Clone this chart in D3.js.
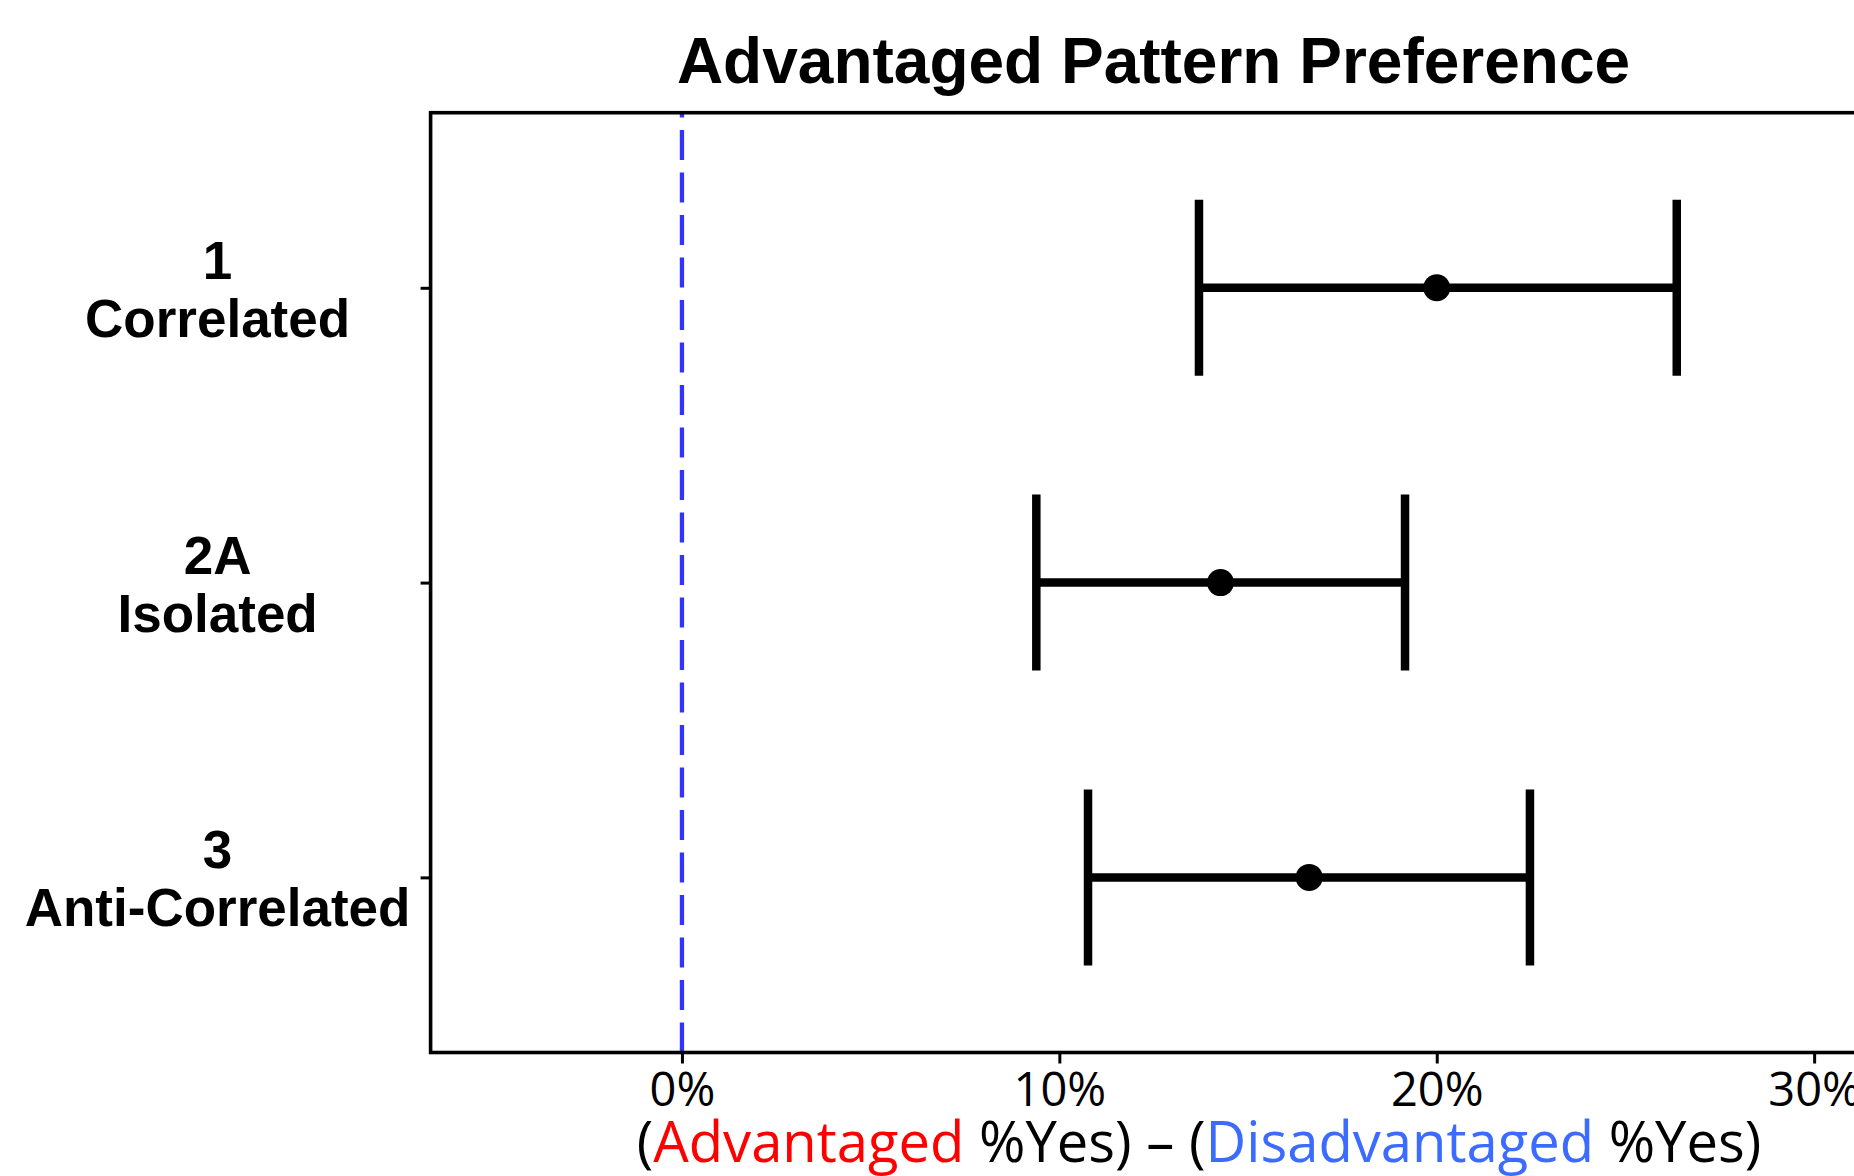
<!DOCTYPE html>
<html>
<head>
<meta charset="utf-8">
<script src="https://cdn.jsdelivr.net/npm/d3@7"></script>
<style>
  html, body { margin: 0; padding: 0; background: #fff; overflow: hidden; }
</style>
</head>
<body>
<svg id="chart" width="1854" height="1176"></svg>
<script>
// ---- data ----
const categoryNumbers = ["1", "2A", "3"];
const categoryNames = ["Correlated", "Isolated", "Anti-Correlated"];
const pointValues = [20.0, 14.27, 16.62];   // % difference
const lowerValues = [13.70, 9.39, 10.76];
const upperValues = [26.36, 19.16, 22.47];
const xTickValues = [0, 10, 20, 30];
const titleText = "Advantaged Pattern Preference";
const xLabelParts = [
  { text: "(", color: "#000000" },
  { text: "Advantaged", color: "#ff0000" },
  { text: " %Yes) \u2013 (", color: "#000000" },
  { text: "Disadvantaged", color: "#3b6bff" },
  { text: " %Yes)", color: "#000000" }
];

(function () {
// ---- layout ----
const svg = d3.select("#chart");
const pL = 430.6, pR = 1876.4, pT = 112.7, pB = 1052.5;

const x = d3.scaleLinear().domain([-6.66, 31.65]).range([pL, pR]);
const y = d3.scaleLinear().domain([-0.594, 2.594]).range([pT, pB]);

// reference line at 0
svg.append("line")
  .attr("x1", x(0)).attr("x2", x(0))
  .attr("y1", pB).attr("y2", pT)
  .attr("stroke", "#3333ff").attr("stroke-width", 4.3)
  .attr("stroke-dasharray", "30,12.5");

// axes spines (right one falls outside the canvas)
svg.append("rect")
  .attr("x", pL).attr("y", pT)
  .attr("width", pR - pL).attr("height", pB - pT)
  .attr("fill", "none").attr("stroke", "#000").attr("stroke-width", 3.6);

// x axis
const xAxis = d3.axisBottom(x)
  .tickValues(xTickValues)
  .tickFormat(d => d + "%")
  .tickSize(11)
  .tickPadding(8);
const gx = svg.append("g").attr("transform", `translate(0,${pB})`).call(xAxis);
gx.select(".domain").remove();
gx.selectAll(".tick line").attr("stroke", "#000").attr("stroke-width", 3);
gx.selectAll(".tick text")
  .attr("font-family", "'Open Sans', 'Noto Sans', sans-serif")
  .attr("font-size", 47)
  .attr("fill", "#000")
  .attr("dy", null)
  .attr("y", 1106 - pB);

// y axis ticks
const idx = categoryNumbers.map((d, i) => i);
const yAxis = d3.axisLeft(y).tickValues(idx).tickFormat("").tickSize(10);
const gy = svg.append("g").attr("transform", `translate(${pL},0)`).call(yAxis);
gy.select(".domain").remove();
gy.selectAll(".tick line").attr("stroke", "#000").attr("stroke-width", 3);

// y category labels (two lines)
const labelX = 217.6;
const ylab = svg.append("g")
  .attr("font-family", "'Liberation Sans', Arial, sans-serif")
  .attr("font-weight", "bold")
  .attr("font-size", 53)
  .attr("fill", "#000")
  .attr("text-anchor", "middle");
idx.forEach(i => {
  ylab.append("text").attr("x", labelX).attr("y", y(i) - 9).text(categoryNumbers[i]);
  ylab.append("text").attr("x", labelX).attr("y", y(i) + 49).text(categoryNames[i]);
});

// error bars
const capHalf = 88;
const barW = 8.5;
const eg = svg.append("g");
idx.forEach(i => {
  const cy = y(i);
  eg.append("line")
    .attr("x1", x(lowerValues[i])).attr("x2", x(upperValues[i]))
    .attr("y1", cy).attr("y2", cy)
    .attr("stroke", "#000").attr("stroke-width", barW);
  [lowerValues[i], upperValues[i]].forEach(v => {
    eg.append("line")
      .attr("x1", x(v)).attr("x2", x(v))
      .attr("y1", cy - capHalf).attr("y2", cy + capHalf)
      .attr("stroke", "#000").attr("stroke-width", barW);
  });
  eg.append("circle")
    .attr("cx", x(pointValues[i])).attr("cy", cy).attr("r", 13.5)
    .attr("fill", "#000");
});

// title
svg.append("text")
  .attr("x", 1153.5).attr("y", 83.3)
  .attr("text-anchor", "middle")
  .attr("font-family", "'Liberation Sans', Arial, sans-serif")
  .attr("font-weight", "bold")
  .attr("font-size", 64)
  .attr("fill", "#000")
  .text(titleText);

// x label (multi-coloured), fitted to reference width
const xl = svg.append("text")
  .attr("x", 1199).attr("y", 1161.7)
  .attr("text-anchor", "middle")
  .attr("font-family", "'Open Sans', 'Noto Sans', sans-serif")
  .attr("font-size", 60);
xLabelParts.forEach(p => {
  xl.append("tspan").attr("fill", p.color).text(p.text);
});
const w = xl.node().getComputedTextLength();
if (w > 0) xl.attr("font-size", 60 * 1125 / w);
})();
</script>
</body>
</html>
